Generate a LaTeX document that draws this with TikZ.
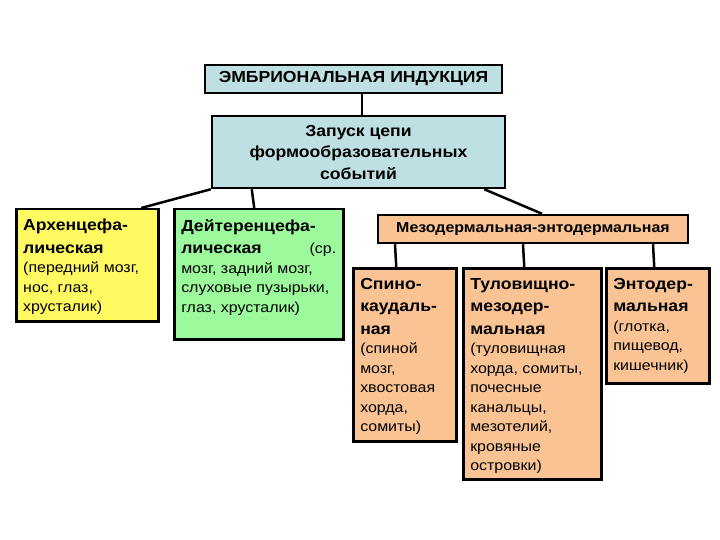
\documentclass[tikz,border=0pt]{standalone}
\usepackage{fontspec}
\setmainfont{Liberation Sans}[FakeStretch=1.1]
\definecolor{cyanbox}{HTML}{BEE0E2}
\definecolor{yellowbox}{HTML}{FFFA62}
\definecolor{greenbox}{HTML}{9CFA9C}
\definecolor{orangebox}{HTML}{F9C393}
\newcommand{\boxtext}[3]{\parbox[t][#2pt][t]{#1pt}{\vspace*{5pt}\raggedright #3}}
\newcommand{\headfont}{\fontsize{16}{22.5}\selectfont\bfseries}
\newcommand{\descfont}{\fontsize{14.5}{19.5}\selectfont\mdseries}
\begin{document}
\begin{tikzpicture}[x=1pt,y=-1pt,
		box/.style={draw,line width=2.5pt,anchor=north west,inner xsep=7pt,inner ysep=5pt},
		link/.style={line width=2.5pt}]
		\useasboundingbox (0,0) rectangle (720,540);

		\node[box,fill=cyanbox,anchor=center,minimum width=297pt,minimum height=28pt,font=\fontsize{16}{18}\selectfont\bfseries] (title) at (353.5,79) {ЭМБРИОНАЛЬНАЯ ИНДУКЦИЯ};
		\node[box,fill=cyanbox,anchor=center,minimum width=293pt,minimum height=72pt,align=center,font=\fontsize{16}{21.5}\selectfont\bfseries] (launch) at (358.5,152) {Запуск цепи\\формообразовательных\\событий};

		\node[box,fill=yellowbox] (arch) at (15,208) {\boxtext{128}{102}{\headfont Архенцефа-\\лическая\par\descfont (передний мозг,\\нос, глаз,\\хрусталик)}};
		\node[box,fill=greenbox] (deut) at (173,208) {\boxtext{155}{120}{\headfont Дейтеренцефа-\\лическая\hfill{\descfont (ср.}\par\descfont мозг, задний мозг,\\слуховые пузырьки,\\глаз, хрусталик)}};
		\node[box,fill=orangebox,anchor=center,minimum width=310pt,minimum height=28pt,font=\fontsize{14.5}{16}\selectfont\bfseries] (meso) at (533,229) {Мезодермальная-энтодермальная};

		\node[box,fill=orangebox] (spino) at (352,267) {\boxtext{89}{163}{\headfont Спино-\\каудаль-\\ная\par\descfont (спиной\\мозг,\\хвостовая\\хорда,\\сомиты)}};
		\node[box,fill=orangebox] (trunk) at (462,267) {\boxtext{124}{201}{\headfont Туловищно-\\мезодер-\\мальная\par\descfont (туловищная\\хорда, сомиты,\\почесные\\канальцы,\\мезотелий,\\кровяные\\островки)}};
		\node[box,fill=orangebox] (ento) at (605,267) {\boxtext{89}{105}{\headfont Энтодер-\\мальная\par\descfont (глотка,\\пищевод,\\кишечник)}};

		\draw[link] ([xshift=8.5pt]title.south) -- ([xshift=3.5pt]launch.north);
		\draw[link] (launch.south west) -- ([xshift=54pt]arch.north);
		\draw[link] ([xshift=41pt]launch.south west) -- ([xshift=-4.5pt]deut.north);
		\draw[link] ([xshift=-22pt]launch.south east) -- ([xshift=9pt]meso.north);
		\draw[link] ([xshift=-138pt]meso.south) -- ([xshift=-8.5pt]spino.north);
		\draw[link] ([xshift=-10pt]meso.south) -- ([xshift=-8pt]trunk.north);
		\draw[link] ([xshift=120pt]meso.south) -- ([xshift=-3.5pt]ento.north);
	\end{tikzpicture}
\end{document}
